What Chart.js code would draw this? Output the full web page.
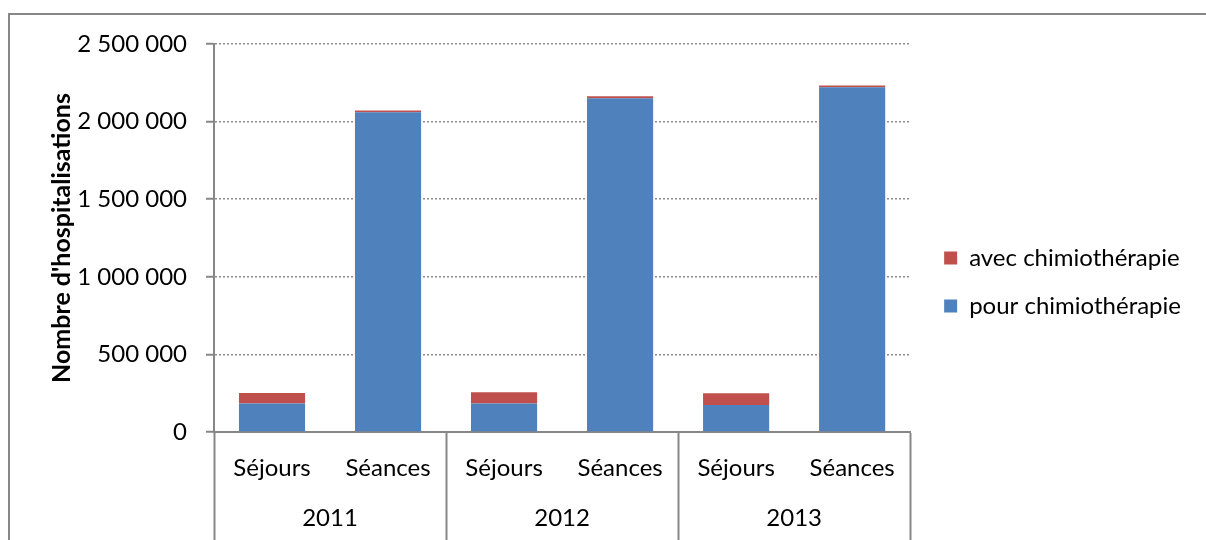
<!DOCTYPE html>
<html lang="fr">
<head>
<meta charset="utf-8">
<script src="https://cdn.jsdelivr.net/npm/chart.js@4"></script>
<style>
  html, body { margin: 0; background: #fff; overflow: hidden; }
  #cadre { position: absolute; left: 8px; top: 13px; width: 1400px; height: 800px; border: 2px solid #878787; }
  #zone { position: absolute; left: 0; top: 0; width: 1206px; height: 540px; }
</style>
</head>
<body>
<div id="cadre"></div>
<div id="zone"><canvas id="chimio"></canvas></div>
<script>
var categories = ["Séjours", "Séances", "Séjours", "Séances", "Séjours", "Séances"];
var annees = ["2011", "2012", "2013"];
var pourChimio = [183000, 2060000, 183000, 2150000, 174000, 2221000];
var avecChimio = [68000, 11000, 73000, 13000, 75000, 11000];
var graduations = [0, 500000, 1000000, 1500000, 2000000, 2500000];

var gris = "#878787";

function espaces(v) {
  return String(v).replace(/\B(?=(\d{3})+(?!\d))/g, " ");
}

Chart.defaults.font.family = "Lato";
Chart.defaults.font.size = 24;
Chart.defaults.color = "#000";

var ctx = document.getElementById("chimio");

var graphique = new Chart(ctx, {
  type: "bar",
  data: {
    labels: categories,
    datasets: [
      {
        label: "pour chimiothérapie",
        data: pourChimio,
        backgroundColor: "#4F81BD",
        categoryPercentage: 1,
        barPercentage: 0.57,
      },
      {
        label: "avec chimiothérapie",
        data: avecChimio,
        backgroundColor: "#C0504D",
        categoryPercentage: 1,
        barPercentage: 0.57,
      },
    ],
  },
  options: {
    responsive: true,
    maintainAspectRatio: false,
    animation: false,
    layout: { padding: { top: 24, left: 0, right: 15, bottom: 0 } },
    plugins: {
      title: { display: true, text: "", padding: 0, font: { size: 20, lineHeight: 1 } },
      tooltip: { enabled: false },
      legend: {
        display: true,
        position: "right",
        reverse: true,
        maxWidth: 272,
        labels: {
          boxWidth: 13,
          boxHeight: 13,
          padding: 24,
          font: { size: 24 },
        },
      },
    },
    scales: {
      x: {
        stacked: true,
        weight: 0,
        border: { display: true, color: gris, width: 2 },
        grid: {
          offset: true,
          drawOnChartArea: false,
          drawTicks: true,
          tickLength: 108,
          tickWidth: 2,
          // only the year boundaries get a separator
          color: function (c) {
            return c.index === undefined || c.index % 2 === 0 ? gris : "rgba(0,0,0,0)";
          },
        },
        ticks: { padding: -86, maxRotation: 0, autoSkip: false },
        afterFit: function (s) { s.height = 60; },
      },
      annees: {
        type: "category",
        labels: annees,
        position: "bottom",
        offset: true,
        weight: 1,
        border: { display: false },
        grid: { display: false, drawTicks: false },
        ticks: { padding: 12, maxRotation: 0 },
        afterFit: function (s) { s.height = 48; },
      },
      y: {
        stacked: true,
        min: 0,
        max: 2500000,
        border: { display: true, color: gris, width: 2, dash: [2, 2] },
        grid: {
          color: "#8c8c8c",
          lineWidth: 1.5,
          tickLength: 8,
          tickWidth: 2,
          tickColor: gris,
          tickBorderDash: [],
        },
        afterBuildTicks: function (s) {
          s.ticks = graduations.map(function (v) { return { value: v }; });
        },
        ticks: {
          padding: 19,
          callback: function (v) { return espaces(v); },
        },
        title: {
          display: true,
          text: "Nombre d'hospitalisations",
          font: { size: 25, weight: "bold" },
          padding: { top: 47, bottom: 0 },
        },
        afterFit: function (s) { s.width = 214; },
      },
      ecart: {
        type: "linear",
        position: "right",
        display: true,
        border: { display: false },
        grid: { display: false },
        ticks: { display: false },
        afterFit: function (s) { s.width = 10; },
      },
    },
  },
});
</script>
</body>
</html>
